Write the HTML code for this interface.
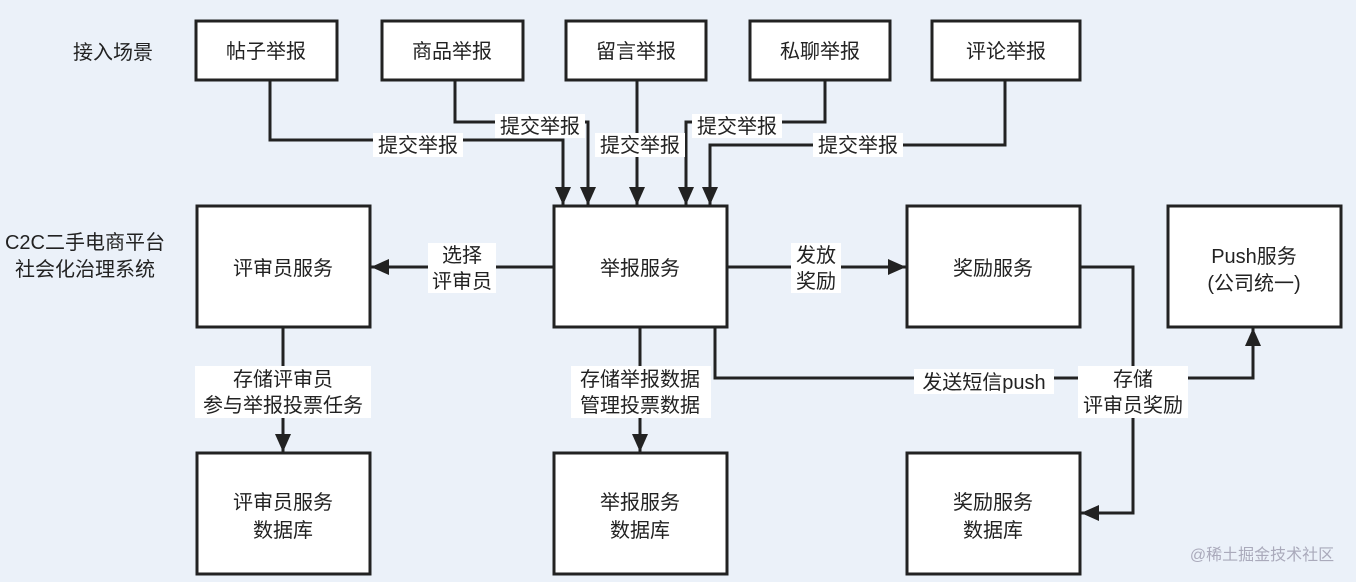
<!DOCTYPE html>
<html><head><meta charset="utf-8"><style>
body{margin:0;background:#ebf1f9;}
svg{display:block;font-family:"Liberation Sans","Noto Sans CJK SC",sans-serif;}
</style></head><body>
<svg width="1356" height="582" viewBox="0 0 1356 582" xmlns="http://www.w3.org/2000/svg">
<defs>
<marker id="b" viewBox="0 0 10 10" refX="10" refY="5" markerWidth="18" markerHeight="16" markerUnits="userSpaceOnUse" orient="auto" preserveAspectRatio="none"><path d="M0,0L10,5L0,10z" fill="#222"/></marker></defs>
<rect width="1356" height="582" fill="#ebf1f9"/>
<g fill="#fff" stroke="#222" stroke-width="3">
<rect x="196" y="21" width="141" height="59"/>
<rect x="382" y="21" width="141" height="59"/>
<rect x="566" y="21" width="140" height="59"/>
<rect x="750" y="21" width="140" height="59"/>
<rect x="932" y="21" width="148" height="59"/>
<rect x="197" y="206" width="173" height="121"/>
<rect x="554" y="206" width="173" height="121"/>
<rect x="907" y="206" width="173" height="121"/>
<rect x="1168" y="206" width="173" height="121"/>
<rect x="197" y="453" width="173" height="121"/>
<rect x="554" y="453" width="173" height="121"/>
<rect x="907" y="453" width="173" height="121"/>
</g>
<g fill="none" stroke="#222" stroke-width="3" marker-end="url(#b)">
<path d="M270 80V140H563V205"/>
<path d="M455 80V122H588V205"/>
<path d="M637 80V205"/>
<path d="M825 80V122H686V205"/>
<path d="M1005 80V145H710V205"/>
<path d="M554 267H371"/>
<path d="M727 267H906"/>
<path d="M283 327V452"/>
<path d="M640 327V452"/>
<path d="M715 327V378H1253V328"/>
<path d="M1080 267H1133V513H1081"/>
</g>
<g font-size="20" fill="#222" text-anchor="middle">
<g fill="#fff"><rect x="373" y="133" width="90" height="24"/><rect x="495" y="114" width="90" height="24"/><rect x="595" y="133" width="90" height="24"/><rect x="692" y="114" width="90" height="24"/><rect x="813" y="133" width="90" height="24"/>
<rect x="428" y="243" width="68" height="50"/><rect x="791" y="243" width="50" height="50"/>
<rect x="195" y="366" width="176" height="52"/><rect x="571" y="366" width="140" height="52"/>
<rect x="914" y="369" width="140" height="25"/><rect x="1078" y="366" width="110" height="52"/></g>
<text x="418" y="152">提交举报</text><text x="540" y="133">提交举报</text><text x="640" y="152">提交举报</text><text x="737" y="133">提交举报</text><text x="858" y="152">提交举报</text>
<text x="266" y="58">帖子举报</text><text x="452" y="58">商品举报</text><text x="636" y="58">留言举报</text><text x="820" y="58">私聊举报</text><text x="1006" y="58">评论举报</text>
<text x="283" y="275">评审员服务</text><text x="640" y="275">举报服务</text><text x="993" y="275">奖励服务</text>
<text x="1254" y="263">Push服务</text><text x="1254" y="290">(公司统一)</text>
<text x="462" y="262">选择</text><text x="462" y="288">评审员</text>
<text x="816" y="262">发放</text><text x="816" y="288">奖励</text>
<text x="283" y="386">存储评审员</text><text x="283" y="412">参与举报投票任务</text>
<text x="640" y="386">存储举报数据</text><text x="640" y="412">管理投票数据</text>
<text x="984" y="389">发送短信push</text>
<text x="1133" y="386">存储</text><text x="1133" y="412">评审员奖励</text>
<text x="283" y="509">评审员服务</text><text x="283" y="537">数据库</text>
<text x="640" y="509">举报服务</text><text x="640" y="537">数据库</text>
<text x="993" y="509">奖励服务</text><text x="993" y="537">数据库</text>
<text x="113" y="59">接入场景</text>
<text x="85" y="249">C2C二手电商平台</text><text x="85" y="276">社会化治理系统</text>
<text x="1262" y="560" font-size="16" fill="#aab">@稀土掘金技术社区</text>
</g>
</svg>
</body></html>
